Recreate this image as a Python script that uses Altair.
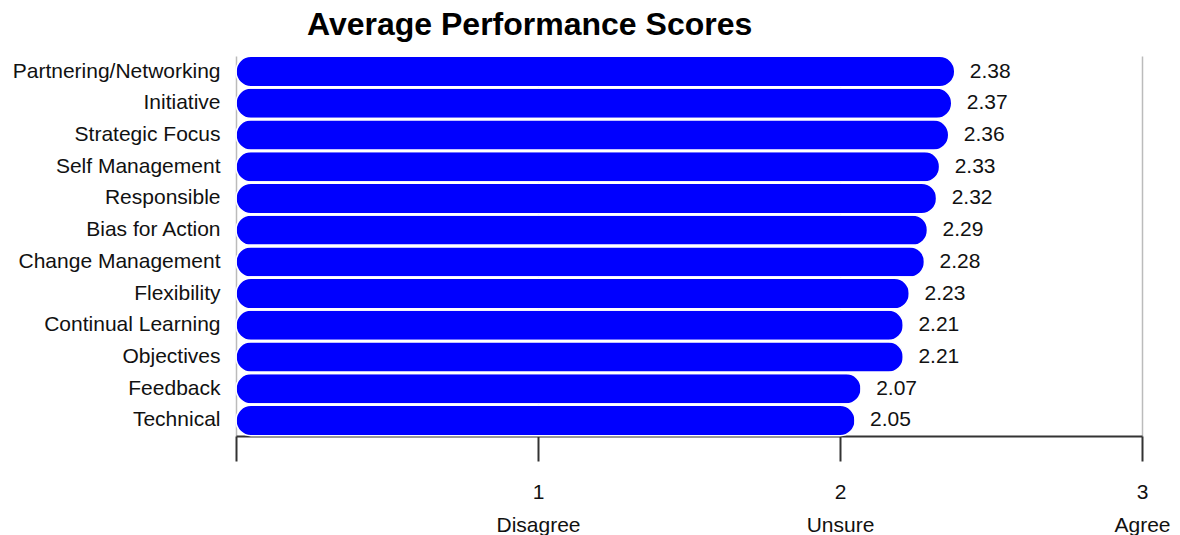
import altair as alt
import pandas as pd

categories = ["Partnering/Networking", "Initiative", "Strategic Focus", "Self Management",
              "Responsible", "Bias for Action", "Change Management", "Flexibility",
              "Continual Learning", "Objectives", "Feedback", "Technical"]
scores = [2.38, 2.37, 2.36, 2.33, 2.32, 2.29, 2.28, 2.23, 2.21, 2.21, 2.07, 2.05]
tick_values = [0, 1, 2, 3]
tick_labels = ["", "1", "2", "3"]
tick_words = ["", "Disagree", "Unsure", "Agree"]

df = pd.DataFrame({"category": categories, "score": scores})
df["label"] = df["score"].map(lambda v: f"{v:.2f}")

label_expr = ("datum.value == 1 ? ['1', 'Disagree'] : datum.value == 2 ? ['2', 'Unsure'] : "
              "datum.value == 3 ? ['3', 'Agree'] : ''")

FONT = "Liberation Sans"
FS = 21

x = alt.X("score:Q", scale=alt.Scale(domain=[0, 3], nice=False, zero=True),
          axis=alt.Axis(values=tick_values, labelExpr=label_expr, title=None,
                        grid=True, gridColor="#bbbbbb", gridWidth=1.5,
                        domainColor="#333333", domainWidth=2, tickColor="#333333",
                        tickWidth=2, tickSize=25, labelPadding=20, labelFontSize=FS,
                        labelFont=FONT, labelColor="#111111", labelFlush=False,
                        labelOverlap=False, labelBound=False,
                        labelLineHeight=33, labelBaseline="top"))
y = alt.Y("category:N", sort=categories,
          scale=alt.Scale(paddingInner=0.04, paddingOuter=0.01),
          axis=alt.Axis(title=None, ticks=False, domain=False, labelPadding=16,
                        labelLimit=400, labelFontSize=FS, labelFont=FONT,
                        labelColor="#111111"))

bars = alt.Chart(df).mark_bar(color="#0000ff", cornerRadius=15, stroke="white",
                              strokeWidth=1.5).encode(x=x, y=y)
text = alt.Chart(df).mark_text(align="left", baseline="middle", dx=15, fontSize=FS,
                               font=FONT, color="#111111").encode(
    x=alt.X("score:Q"), y=alt.Y("category:N", sort=categories), text="label:N")

chart = (bars + text).properties(
    width=906, height=380,
    padding={"left": 236, "top": 56, "right": 38, "bottom": 99},
    autosize="none",
    title=alt.TitleParams("Average Performance Scores", anchor="start", frame="group",
                          dx=71, fontSize=32, font=FONT, fontWeight="bold",
                          color="#000000", offset=14),
).configure_view(stroke=None)

chart.save("out.html", embed_options={"renderer": "svg", "actions": False})
